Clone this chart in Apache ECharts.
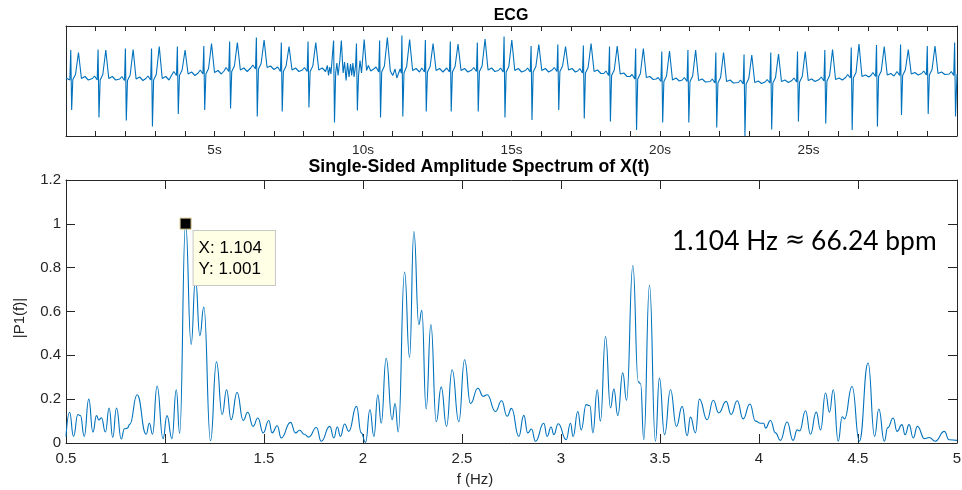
<!DOCTYPE html>
<html>
<head>
<meta charset="utf-8">
<title>ECG spectrum</title>
<script src="https://cdn.jsdelivr.net/npm/echarts@6/dist/echarts.min.js"></script>
<style>
  html, body { margin: 0; padding: 0; background: #fff; }
  #chart { width: 962px; height: 490px; }
</style>
</head>
<body>
<div id="chart"></div>
<script>
// ECG trace, [seconds, amplitude], one line per beat
const ecgTrace = [
  [0.00, 0.00], [0.05, 0.03], [0.13, -0.04], [0.16, 0.56], [0.19, -0.64], [0.23, -0.03], [0.32, 0.07], [0.42, 0.51], [0.52, -0.01], [0.64, 0.03], [0.75, -0.04],
  [0.89, -0.01], [0.96, 0.04], [1.05, -0.04], [1.08, 0.57], [1.11, -0.79], [1.15, -0.04], [1.24, 0.07], [1.34, 0.56], [1.44, -0.01], [1.56, 0.03], [1.67, -0.04],
  [1.81, -0.02], [1.88, 0.03], [1.97, -0.05], [2.00, 0.59], [2.03, -0.85], [2.07, -0.05], [2.16, 0.06], [2.26, 0.57], [2.36, -0.02], [2.48, 0.02], [2.59, -0.05],
  [2.69, -0.01], [2.76, 0.04], [2.85, -0.04], [2.88, 0.59], [2.91, -0.97], [2.95, -0.04], [3.04, 0.07], [3.14, 0.63], [3.24, -0.01], [3.36, 0.03], [3.47, -0.04],
  [3.56, 0.06], [3.63, 0.13], [3.72, 0.05], [3.75, 0.63], [3.78, -0.72], [3.82, 0.05], [3.91, 0.16], [4.01, 0.56], [4.11, 0.08], [4.23, 0.12], [4.34, 0.05],
  [4.45, 0.10], [4.52, 0.16], [4.61, 0.08], [4.64, 0.64], [4.67, -0.64], [4.71, 0.08], [4.80, 0.19], [4.90, 0.69], [5.00, 0.11], [5.12, 0.15], [5.23, 0.08],
  [5.32, 0.14], [5.39, 0.21], [5.48, 0.13], [5.51, 0.73], [5.54, -0.61], [5.58, 0.13], [5.67, 0.24], [5.77, 0.71], [5.87, 0.16], [5.99, 0.20], [6.10, 0.13],
  [6.22, 0.20], [6.29, 0.26], [6.38, 0.18], [6.41, 0.81], [6.44, -0.77], [6.48, 0.18], [6.57, 0.29], [6.67, 0.76], [6.77, 0.21], [6.89, 0.24], [7.00, 0.17],
  [7.06, 0.17], [7.13, 0.22], [7.22, 0.13], [7.25, 0.71], [7.28, -0.67], [7.32, 0.13], [7.41, 0.24], [7.51, 0.63], [7.61, 0.16], [7.73, 0.20], [7.84, 0.13],
  [7.96, 0.16], [8.03, 0.21], [8.12, 0.13], [8.15, 0.73], [8.18, -0.59], [8.22, 0.13], [8.31, 0.24], [8.41, 0.71], [8.51, 0.16], [8.63, 0.20], [8.74, 0.13],
  [8.80, 0.25], [8.84, 0.05], [8.88, 0.22], [8.92, 0.08], [8.98, 0.12], [9.01, 0.75], [9.04, -0.89], [9.08, 0.10], [9.12, 0.30], [9.16, 0.05], [9.22, 0.35], [9.27, 0.75], [9.33, 0.10], [9.38, 0.32], [9.43, -0.05], [9.48, 0.30], [9.53, 0.02], [9.58, 0.28],
  [9.62, 0.05], [9.66, 0.30], [9.70, 0.02], [9.75, 0.25], [9.78, 0.69], [9.81, -0.65], [9.85, 0.05], [9.90, 0.35], [9.95, 0.10], [10.04, 0.77], [10.12, 0.15], [10.18, 0.25], [10.26, 0.14], [10.36, 0.18],
  [10.44, 0.22], [10.53, 0.12], [10.56, 0.75], [10.59, -0.79], [10.63, 0.12], [10.72, 0.24], [10.82, 0.81], [10.92, 0.14], [11.00, 0.05], [11.08, 0.18], [11.14, 0.00],
  [11.20, 0.10], [11.25, 0.18], [11.29, 0.10], [11.31, 0.85], [11.34, -0.77], [11.38, 0.10], [11.47, 0.23], [11.57, 0.77], [11.67, 0.15], [11.79, 0.19], [11.90, 0.12],
  [11.98, 0.20], [12.07, 0.12], [12.10, 0.76], [12.13, -0.67], [12.17, 0.12], [12.26, 0.23], [12.36, 0.69], [12.46, 0.15], [12.58, 0.19], [12.69, 0.12],
  [12.75, 0.15], [12.82, 0.20], [12.91, 0.12], [12.94, 0.73], [12.97, -0.67], [13.01, 0.12], [13.10, 0.23], [13.20, 0.68], [13.30, 0.15], [13.42, 0.19], [13.53, 0.12],
  [13.66, 0.16], [13.73, 0.21], [13.82, 0.13], [13.85, 0.71], [13.88, -0.67], [13.92, 0.13], [14.01, 0.24], [14.11, 0.78], [14.21, 0.16], [14.33, 0.20], [14.44, 0.13],
  [14.56, 0.15], [14.63, 0.20], [14.72, 0.12], [14.75, 0.83], [14.78, -0.79], [14.82, 0.12], [14.91, 0.23], [15.01, 0.76], [15.11, 0.15], [15.23, 0.19], [15.34, 0.12],
  [15.47, 0.15], [15.54, 0.20], [15.63, 0.12], [15.66, 0.64], [15.69, -0.84], [15.73, 0.12], [15.82, 0.23], [15.92, 0.67], [16.02, 0.15], [16.14, 0.19], [16.25, 0.12],
  [16.37, 0.16], [16.44, 0.21], [16.53, 0.13], [16.56, 0.67], [16.59, -0.64], [16.63, 0.13], [16.72, 0.24], [16.82, 0.63], [16.92, 0.16], [17.04, 0.19], [17.15, 0.12],
  [17.23, 0.14], [17.30, 0.19], [17.39, 0.10], [17.42, 0.65], [17.45, -0.81], [17.49, 0.10], [17.58, 0.21], [17.68, 0.69], [17.78, 0.13], [17.90, 0.16], [18.01, 0.09],
  [18.11, 0.09], [18.18, 0.14], [18.27, 0.05], [18.30, 0.63], [18.33, -0.87], [18.37, 0.05], [18.46, 0.16], [18.56, 0.64], [18.66, 0.08], [18.78, 0.10], [18.89, 0.03],
  [18.99, 0.03], [19.06, 0.07], [19.15, -0.02], [19.18, 0.59], [19.21, -1.04], [19.25, -0.02], [19.34, 0.09], [19.44, 0.59], [19.54, 0.01], [19.66, 0.03], [19.77, -0.03],
  [19.87, -0.02], [19.94, 0.01], [20.03, -0.07], [20.06, 0.53], [20.09, -0.89], [20.13, -0.07], [20.22, 0.04], [20.32, 0.54], [20.42, -0.04], [20.54, 0.00], [20.65, -0.06],
  [20.75, -0.04], [20.82, 0.01], [20.91, -0.07], [20.94, 0.56], [20.97, -0.89], [21.01, -0.07], [21.10, 0.04], [21.20, 0.56], [21.30, -0.05], [21.42, -0.02], [21.53, -0.08],
  [21.69, -0.07], [21.76, -0.02], [21.85, -0.10], [21.88, 0.51], [21.91, -0.99], [21.95, -0.10], [22.04, 0.01], [22.14, 0.51], [22.24, -0.07], [22.36, -0.04], [22.47, -0.10],
  [22.64, -0.09], [22.71, -0.04], [22.80, -0.12], [22.83, 0.47], [22.86, -1.16], [22.90, -0.12], [22.99, -0.01], [23.09, 0.46], [23.19, -0.09], [23.31, -0.06], [23.42, -0.11],
  [23.54, -0.08], [23.61, -0.03], [23.70, -0.10], [23.73, 0.51], [23.76, -1.03], [23.80, -0.10], [23.89, 0.01], [23.99, 0.48], [24.09, -0.07], [24.21, -0.04], [24.32, -0.09],
  [24.44, -0.05], [24.51, 0.00], [24.60, -0.08], [24.63, 0.53], [24.66, -0.87], [24.70, -0.08], [24.79, 0.03], [24.89, 0.53], [24.99, -0.05], [25.11, -0.02], [25.22, -0.07],
  [25.36, -0.03], [25.43, 0.02], [25.52, -0.06], [25.55, 0.56], [25.58, -0.91], [25.62, -0.06], [25.71, 0.05], [25.81, 0.57], [25.91, -0.03], [26.03, 0.00], [26.14, -0.04],
  [26.25, 0.01], [26.32, 0.07], [26.41, 0.00], [26.44, 0.61], [26.47, -1.04], [26.51, 0.00], [26.60, 0.11], [26.70, 0.68], [26.80, 0.03], [26.92, 0.06], [27.03, 0.02],
  [27.10, 0.05], [27.17, 0.11], [27.26, 0.03], [27.29, 0.66], [27.32, -0.97], [27.36, 0.03], [27.45, 0.14], [27.55, 0.63], [27.65, 0.06], [27.77, 0.09], [27.88, 0.04],
  [27.91, 0.07], [27.98, 0.13], [28.07, 0.05], [28.10, 0.67], [28.13, -0.74], [28.17, 0.05], [28.26, 0.16], [28.36, 0.57], [28.46, 0.08], [28.58, 0.11], [28.69, 0.06],
  [28.81, 0.09], [28.88, 0.14], [28.97, 0.06], [29.00, 0.64], [29.03, -0.72], [29.07, 0.06], [29.16, 0.17], [29.26, 0.64], [29.36, 0.09], [29.48, 0.12], [29.59, 0.07],
  [29.74, 0.08], [29.81, 0.13], [29.89, 0.05], [29.92, 0.71], [29.95, -0.77], [30.00, 0.08]
]
const ecgLabelTimes = [5, 10, 15, 20, 25]

// single-sided spectrum, local peaks and dips
const specFreq = [
  0.500, 0.518, 0.538, 0.560, 0.573, 0.592, 0.615, 0.636, 0.654, 0.666, 0.679, 0.699, 0.718, 0.736, 0.755, 0.779,
  0.795, 0.810, 0.822, 0.859, 0.905, 0.921, 0.937, 0.960, 0.990, 1.010, 1.035, 1.057, 1.074, 1.104, 1.132, 1.154,
  1.176, 1.196, 1.230, 1.260, 1.289, 1.311, 1.334, 1.364, 1.395, 1.418, 1.445, 1.469, 1.496, 1.524, 1.541, 1.567,
  1.587, 1.634, 1.659, 1.680, 1.703, 1.726, 1.765, 1.789, 1.832, 1.853, 1.870, 1.886, 1.907, 1.928, 1.967, 1.991,
  2.013, 2.035, 2.055, 2.075, 2.092, 2.117, 2.147, 2.162, 2.178, 2.210, 2.235, 2.257, 2.282, 2.297, 2.319, 2.343,
  2.370, 2.395, 2.422, 2.450, 2.484, 2.513, 2.543, 2.580, 2.607, 2.627, 2.669, 2.700, 2.728, 2.750, 2.787, 2.812,
  2.832, 2.851, 2.871, 2.913, 2.930, 2.950, 2.964, 2.986, 3.026, 3.048, 3.061, 3.085, 3.102, 3.127, 3.146, 3.161,
  3.183, 3.199, 3.225, 3.250, 3.267, 3.287, 3.312, 3.331, 3.363, 3.390, 3.402, 3.418, 3.447, 3.477, 3.497, 3.523,
  3.553, 3.583, 3.612, 3.637, 3.654, 3.679, 3.699, 3.738, 3.769, 3.797, 3.834, 3.859, 3.890, 3.920, 3.954, 3.982,
  4.008, 4.024, 4.033, 4.058, 4.083, 4.108, 4.142, 4.172, 4.193, 4.205, 4.235, 4.260, 4.289, 4.311, 4.336, 4.356,
  4.375, 4.400, 4.420, 4.432, 4.470, 4.507, 4.551, 4.584, 4.605, 4.633, 4.650, 4.678, 4.697, 4.722, 4.738, 4.758,
  4.779, 4.800, 4.836, 4.860, 4.890, 4.936, 4.960, 5.000
]
const specAmp = [
  0.030, 0.140, 0.030, 0.130, 0.125, 0.030, 0.200, 0.050, 0.125, 0.105, 0.115, 0.050, 0.160, 0.025, 0.160, 0.018,
  0.065, 0.068, 0.085, 0.220, 0.040, 0.090, 0.040, 0.260, 0.020, 0.125, 0.020, 0.243, 0.045, 1.001, 0.450, 0.750,
  0.490, 0.620, 0.010, 0.370, 0.130, 0.243, 0.106, 0.231, 0.103, 0.140, 0.076, 0.114, 0.046, 0.103, 0.046, 0.079,
  0.023, 0.094, 0.046, 0.058, 0.040, 0.027, 0.071, 0.008, 0.076, 0.023, 0.073, 0.030, 0.087, 0.053, 0.167, 0.046,
  0.003, 0.152, 0.030, 0.220, 0.090, 0.387, 0.106, 0.180, 0.050, 0.780, 0.390, 0.965, 0.540, 0.605, 0.155, 0.540,
  0.097, 0.255, 0.076, 0.334, 0.097, 0.380, 0.180, 0.250, 0.213, 0.220, 0.144, 0.193, 0.122, 0.158, 0.030, 0.126,
  0.046, 0.064, 0.008, 0.090, 0.030, 0.073, 0.038, 0.088, 0.015, 0.090, 0.030, 0.144, 0.060, 0.175, 0.170, 0.046,
  0.243, 0.100, 0.486, 0.160, 0.246, 0.125, 0.320, 0.195, 0.810, 0.280, 0.270, 0.015, 0.720, 0.008, 0.296, 0.038,
  0.243, 0.076, 0.167, 0.033, 0.118, 0.046, 0.200, 0.106, 0.195, 0.137, 0.190, 0.130, 0.193, 0.110, 0.178, 0.100,
  0.090, 0.090, 0.068, 0.103, 0.046, 0.012, 0.096, 0.012, 0.060, 0.055, 0.147, 0.040, 0.141, 0.060, 0.228, 0.140,
  0.243, 0.008, 0.120, 0.110, 0.258, 0.008, 0.365, 0.030, 0.155, 0.008, 0.070, 0.114, 0.053, 0.084, 0.038, 0.084,
  0.023, 0.076, 0.020, 0.025, 0.008, 0.053, 0.015, 0.012
]
const peakPoint = [1.104, 1.001]

const axisColor = '#262626'
const lineColor = '#0072BD'

const chart = echarts.init(document.getElementById('chart'), null, { renderer: 'canvas' })

function boxAxis(extra) {
  return Object.assign({
    type: 'value',
    axisLine: { show: true, onZero: false, lineStyle: { color: axisColor, width: 1 } },
    splitLine: { show: false },
  }, extra)
}

const option = {
  animation: false,
  backgroundColor: '#fff',
  grid: [
    { left: 66, top: 26, right: 5, height: 110, outerBoundsMode: 'none', containLabel: false },
    { left: 66, top: 180, right: 5, height: 263, outerBoundsMode: 'none', containLabel: false },
  ],
  xAxis: [
    boxAxis({
      gridIndex: 0, min: 0, max: 30, interval: 1,
      axisTick: { inside: true, length: 5, lineStyle: { color: axisColor } },
      axisLabel: {
        color: axisColor, fontSize: 13.5, fontFamily: 'Liberation Sans, Arial', margin: 7,
        formatter: v => ecgLabelTimes.includes(v) ? v + 's' : '',
      },
    }),
    boxAxis({
      gridIndex: 0, position: 'top', min: 0, max: 30, interval: 1,
      axisTick: { inside: true, length: 5, lineStyle: { color: axisColor } },
      axisLabel: { show: false },
    }),
    boxAxis({
      gridIndex: 1, min: 0.5, max: 5, interval: 0.5,
      axisTick: { inside: true, length: 9, lineStyle: { color: axisColor } },
      axisLabel: { color: axisColor, fontSize: 15, fontFamily: 'Liberation Sans, Arial', margin: 8 },
    }),
    boxAxis({
      gridIndex: 1, position: 'top', min: 0.5, max: 5, interval: 0.5,
      axisTick: { inside: true, length: 9, lineStyle: { color: axisColor } },
      axisLabel: { show: false },
    }),
  ],
  yAxis: [
    boxAxis({ gridIndex: 0, min: -1.16, max: 1.04, axisTick: { show: false }, axisLabel: { show: false } }),
    boxAxis({ gridIndex: 0, position: 'right', min: -1.16, max: 1.04, axisTick: { show: false }, axisLabel: { show: false } }),
    boxAxis({
      gridIndex: 1, min: 0, max: 1.2, interval: 0.2,
      axisTick: { inside: true, length: 9, lineStyle: { color: axisColor } },
      axisLabel: { color: axisColor, fontSize: 15, fontFamily: 'Liberation Sans, Arial', margin: 5 },
    }),
    boxAxis({
      gridIndex: 1, position: 'right', min: 0, max: 1.2, interval: 0.2,
      axisTick: { inside: true, length: 9, lineStyle: { color: axisColor } },
      axisLabel: { show: false },
    }),
  ],
  series: [
    {
      name: 'ECG',
      type: 'line',
      xAxisIndex: 0,
      yAxisIndex: 0,
      data: ecgTrace,
      showSymbol: false,
      lineStyle: { color: lineColor, width: 1.1 },
      clip: true,
    },
    {
      name: 'P1',
      type: 'line',
      xAxisIndex: 2,
      yAxisIndex: 2,
      data: specFreq.map((f, i) => [f, specAmp[i]]),
      showSymbol: false,
      smooth: 0.5,
      smoothMonotone: 'x',
      lineStyle: { color: lineColor, width: 1.1 },
      clip: true,
    },
    {
      name: 'datatip',
      type: 'scatter',
      xAxisIndex: 2,
      yAxisIndex: 2,
      data: [peakPoint],
      symbol: 'rect',
      symbolSize: 11,
      itemStyle: { color: '#000', borderColor: '#d2c58f', borderWidth: 1, opacity: 1 },
      label: {
        show: true,
        position: [14, 13.5],
        align: 'left',
        verticalAlign: 'top',
        formatter: () => 'X: ' + peakPoint[0].toFixed(3) + '\nY: ' + peakPoint[1].toFixed(3),
        fontFamily: 'Liberation Sans, Arial',
        fontSize: 17,
        lineHeight: 21.5,
        color: '#000',
        backgroundColor: '#ffffe6',
        borderColor: '#c8c8c8',
        borderWidth: 1,
        padding: [6, 13, 5, 5],
      },
      z: 5,
    },
  ],
  graphic: [
    {
      type: 'text', x: 511, y: 15.5,
      style: { text: 'ECG', font: 'bold 16px "Liberation Sans", Arial', fill: '#000', align: 'center', verticalAlign: 'middle', textAlign: 'center', textVerticalAlign: 'middle' },
    },
    {
      type: 'text', x: 479, y: 167.5,
      style: { text: 'Single-Sided Amplitude Spectrum of X(t)', font: 'bold 17.7px "Liberation Sans", Arial', fill: '#000', align: 'center', verticalAlign: 'middle', textAlign: 'center', textVerticalAlign: 'middle' },
    },
    {
      type: 'text', x: 475, y: 480,
      style: { text: 'f (Hz)', font: '15px "Liberation Sans", Arial', fill: axisColor, align: 'center', verticalAlign: 'middle', textAlign: 'center', textVerticalAlign: 'middle' },
    },
    {
      type: 'text', x: 20, y: 318, rotation: Math.PI / 2,
      style: { text: '|P1(f)|', font: '15px "Liberation Sans", Arial', fill: axisColor, align: 'center', verticalAlign: 'middle', textAlign: 'center', textVerticalAlign: 'middle' },
    },
    {
      type: 'text', x: 672, y: 241,
      style: {
        text: '{a|' + peakPoint[0].toFixed(3) + ' Hz}{b|\u2248}{a|' + (peakPoint[0] * 60).toFixed(2) + ' bpm}',
        fill: '#000', align: 'left', verticalAlign: 'middle', textAlign: 'left', textVerticalAlign: 'middle',
        rich: {
          a: { fontFamily: 'Lato', fontSize: 26.4, fill: '#000', color: '#000', verticalAlign: 'middle', lineHeight: 32 },
          b: { fontFamily: 'DejaVu Sans', fontSize: 24, fill: '#000', color: '#000', verticalAlign: 'middle', lineHeight: 32, padding: [0, 6, 0, 7] },
        },
      },
    },
  ],
}

chart.setOption(option)
</script>
</body>
</html>
